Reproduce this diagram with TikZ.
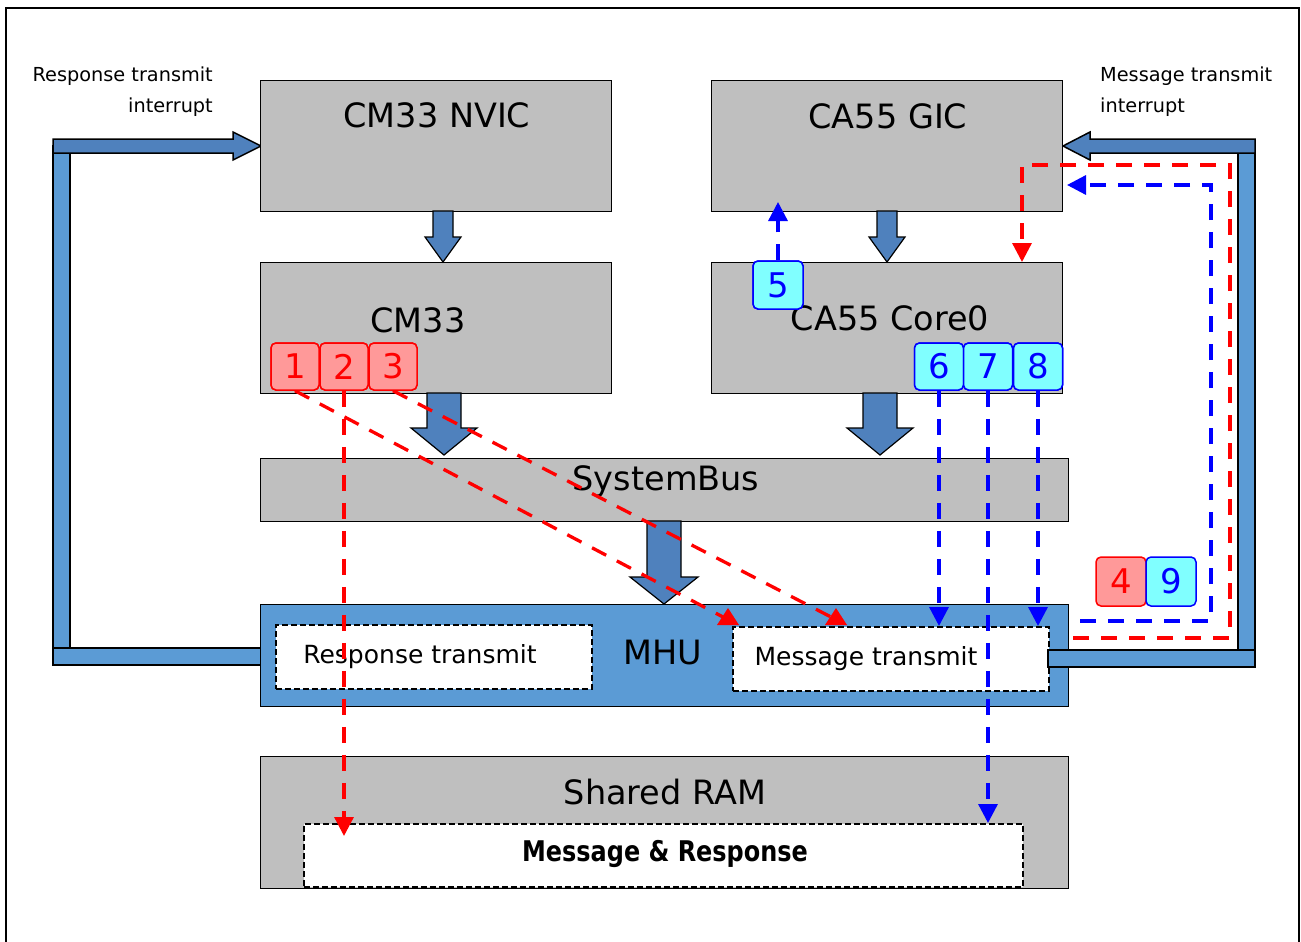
\documentclass[tikz,border=0pt]{standalone}
\usepackage{fontspec}
\setmainfont{DejaVu Sans}
\newfontfamily\condfont[FakeStretch=0.84]{DejaVu Sans}
\usetikzlibrary{arrows.meta,calc}
\definecolor{boxgray}{HTML}{BFBFBF}
\definecolor{mhublue}{HTML}{5B9BD5}
\definecolor{darkblue}{HTML}{4F81BD}
\definecolor{lightred}{HTML}{FF9999}
\definecolor{lightcyan}{HTML}{80FFFF}
\newcommand{\blockdown}[6]{%
  \filldraw[blk] (#1-#4,#2) -- (#1+#4,#2) -- (#1+#4,#3-#6) -- (#1+#5,#3-#6) -- (#1,#3) -- (#1-#5,#3-#6) -- (#1-#4,#3-#6) -- cycle;}
\begin{document}
\begin{tikzpicture}[x=1pt,y=-1pt,
  graybox/.style={draw=black, line width=1.2pt, fill=boxgray, anchor=north west, inner sep=0pt},
  dbox/.style={draw=black, line width=1.8pt, dash pattern=on 6pt off 3pt, fill=white, anchor=north west, inner sep=0pt},
  lbl/.style={font=\fontsize{33.5}{40}\selectfont, anchor=base, inner sep=0pt},
  slbl/.style={font=\fontsize{25}{30}\selectfont, anchor=base, inner sep=0pt},
  toplbl/.style={font=\fontsize{19.3}{31}\selectfont, inner sep=0pt, align=#1},
  blk/.style={draw=black, line width=1.2pt, fill=darkblue},
  bar/.style={draw=black, line width=1.5pt, fill=mhublue},
  rednum/.style={draw=red, fill=lightred, text=red, rounded corners=5pt, line width=1.5pt, minimum width=48pt, minimum height=47pt, inner sep=0pt, font=\fontsize{34}{40}\selectfont},
  bluenum/.style={draw=blue, fill=lightcyan, text=blue, rounded corners=5pt, line width=1.5pt, minimum width=49pt, minimum height=47pt, inner sep=0pt, font=\fontsize{34}{40}\selectfont},
  rdash/.style={draw=red, line width=3.3pt, dash pattern=on 16pt off 12pt},
  bdash/.style={draw=blue, line width=3.3pt, dash pattern=on 16pt off 12pt},
  tip/.style={-{Triangle[length=19pt,width=19pt]}}
]
\useasboundingbox (0,0) rectangle (1301,942);
% frame
\draw[line width=2.5pt] (6,960) -- (6,8) -- (1299,8) -- (1299,960);

% left interrupt path (under MHU)
\filldraw[bar] (53,146) rectangle (70,665);
\filldraw[bar] (53,648) rectangle (275,665);
\filldraw[blk, line width=1.5pt] (53,139) -- (233,139) -- (233,132) -- (261,146) -- (233,160) -- (233,153) -- (53,153) -- cycle;
% right vertical bar
\filldraw[bar] (1238,152) rectangle (1255,667);
\filldraw[blk, line width=1.5pt] (1255,139) -- (1090,139) -- (1090,132) -- (1063,146) -- (1090,160) -- (1090,153) -- (1255,153) -- cycle;

% labels
\node[toplbl=right, anchor=north east] (lrt) at (213,67) {Response transmit\\interrupt};
\node[toplbl=left, anchor=north west] (lmt) at (1100,67) {Message transmit\\interrupt};

% boxes
\node[graybox, minimum width=351pt, minimum height=131pt] (nvic) at (260,80) {};
\node[graybox, minimum width=351pt, minimum height=131pt] (gic) at (711,80) {};
\node[graybox, minimum width=351pt, minimum height=131pt] (cm33) at (260,262) {};
\node[graybox, minimum width=351pt, minimum height=131pt] (core0) at (711,262) {};
\node[graybox, minimum width=808pt, minimum height=63pt] (sysbus) at (260,458) {};
\node[graybox, fill=mhublue, minimum width=808pt, minimum height=102pt] (mhu) at (260,604) {};
\node[dbox, minimum width=316pt, minimum height=64pt] (resp) at (275,624) {};
\node[dbox, minimum width=316pt, minimum height=64pt] (msg) at (732,626) {};
\node[graybox, minimum width=808pt, minimum height=132pt] (ram) at (260,756) {};
\node[dbox, minimum width=719pt, minimum height=63pt] (mr) at (303,823) {};

% right bottom bar over MHU
\filldraw[bar] (1048,650) rectangle (1255,667);

% block arrows
\blockdown{443}{211}{262}{10}{18}{25}
\blockdown{887}{211}{262}{10}{18}{25}
\blockdown{444}{393}{455}{17}{33}{27}
\blockdown{880}{393}{455}{17}{33}{27}
\blockdown{664}{521}{604}{17}{34}{27}

% texts
\node[lbl] (nvict) at (437,127) {CM33 NVIC};
\node[lbl] (gict) at (888,128) {CA55 GIC};
\node[lbl] (cm33t) at (418,332) {CM33};
\node[lbl] (core0t) at (890,330) {CA55 Core0};
\node[lbl] (sbt) at (666,490) {SystemBus};
\node[lbl] (mhut) at (663,664) {MHU};
\node[lbl] (ramt) at (665,804) {Shared RAM};
\node[slbl] (respt) at (420,663) {Response transmit};
\node[slbl] (msgt) at (866,665) {Message transmit};
\node[font=\condfont\bfseries\fontsize{28.5}{32}\selectfont, anchor=base, inner sep=0pt] (mrt) at (665,861) {Message \& Response};

% number boxes
\node[rednum] (n1) at (295,366.5) {1};
\node[rednum] (n2) at (344,366.5) {2};
\node[rednum] (n3) at (393,366.5) {3};
\node[bluenum, minimum width=50pt, minimum height=48pt] (n5) at (778,285) {5};
\node[bluenum] (n6) at (939,366.5) {6};
\node[bluenum] (n7) at (988,366.5) {7};
\node[bluenum] (n8) at (1038,366.5) {8};
\node[rednum, minimum width=50pt, minimum height=49pt] (n4) at (1121,581.5) {4};
\node[bluenum, minimum width=50pt, minimum height=49pt] (n9) at (1171,581.5) {9};

% coordinates for connector ends
\coordinate (t1) at (723,617);
\coordinate (t3) at (831,617);
\coordinate (r4s) at (1073,638);
\coordinate (r4a) at (1230,638);
\coordinate (r4b) at (1230,165);
\coordinate (r4c) at (1022,165);
\coordinate (b9s) at (1080,621);
\coordinate (b9a) at (1211,621);
\coordinate (b9b) at (1211,185);

% red dashed connectors
\draw[rdash] (n1.south) -- (t1);
\draw[rdash] (n3.south) -- (t3);
\fill[red] (717,625) -- (739,625) -- (728,608) -- cycle;
\fill[red] (825,625) -- (847,625) -- (836,608) -- cycle;
\draw[rdash, tip] (n2.south) -- (n2.south |- 0,836);
\draw[rdash, tip] (r4s) -- (r4a) -- (r4b) -- (r4c) -- (r4c |- core0.north);

% blue dashed connectors
\draw[bdash, tip] (n5.north) -- (778,202);
\draw[bdash, tip] (n6.south) -- (n6.south |- msg.north);
\draw[bdash, tip] (n8.south) -- (n8.south |- msg.north);
\draw[bdash, tip] (n7.south) -- (n7.south |- mr.north);
\draw[bdash, tip] (b9s) -- (b9a) -- (b9b) -- (1067,185);

% redraw number boxes on top
\node[rednum] (n1b) at (n1) {1};
\node[rednum] (n2b) at (n2) {2};
\node[rednum] (n3b) at (n3) {3};
\node[bluenum, minimum width=50pt, minimum height=48pt] (n5b) at (n5) {5};
\node[bluenum] (n6b) at (n6) {6};
\node[bluenum] (n7b) at (n7) {7};
\node[bluenum] (n8b) at (n8) {8};
\end{tikzpicture}
\end{document}
